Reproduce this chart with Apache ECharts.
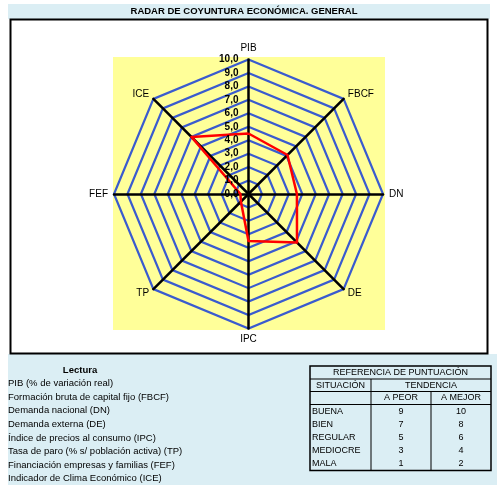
<!DOCTYPE html>
<html><head><meta charset="utf-8">
<script src="https://cdn.jsdelivr.net/npm/echarts@6/dist/echarts.min.js"></script>
<style>html,body{margin:0;padding:0;background:#fff}#c{width:500px;height:485px}</style>
</head><body><div id="c"></div>
<script>
const chartTitle = 'RADAR DE COYUNTURA ECONÓMICA. GENERAL';
const categories = ['PIB', 'FBCF', 'DN', 'DE', 'IPC', 'TP', 'FEF', 'ICE'];
const values = [4.5, 4.1, 3.6, 5.1, 3.5, 0.8, 0.6, 6.0];
const axisMin = 0;
const axisMax = 10;
const tickInterval = 1;
const lecturaTitle = 'Lectura';
const lecturaItems = [
  'PIB (% de variación real)',
  'Formación bruta de capital fijo (FBCF)',
  'Demanda nacional (DN)',
  'Demanda externa (DE)',
  'Índice de precios al consumo (IPC)',
  'Tasa de paro (% s/ población activa) (TP)',
  'Financiación empresas y familias (FEF)',
  'Indicador de Clima Económico (ICE)'
];
const tableTitle = 'REFERENCIA DE PUNTUACIÓN';
const colSituacion = 'SITUACIÓN';
const colTendencia = 'TENDENCIA';
const subCols = ['A PEOR', 'A MEJOR'];
const situaciones = ['BUENA', 'BIEN', 'REGULAR', 'MEDIOCRE', 'MALA'];
const aPeor = [9, 7, 5, 3, 1];
const aMejor = [10, 8, 6, 4, 2];

// ECharts radar runs counter-clockwise; reorder so the chart runs clockwise from the top
const order = [0, 7, 6, 5, 4, 3, 2, 1];
const FONT = 'Liberation Sans, Arial, sans-serif';

const cx = 248.5, cy = 194, R = 134.5;

const g = [];
// backgrounds
g.push({type:'rect', z:-20, shape:{x:8,y:4,width:482,height:15}, style:{fill:'#dbeef4'}});
g.push({type:'rect', z:-20, shape:{x:8,y:354,width:489,height:131}, style:{fill:'#dbeef4'}});
g.push({type:'rect', z:-19, shape:{x:10.5,y:19.5,width:477,height:334}, style:{fill:'#ffffff', stroke:'#000', lineWidth:2}});
g.push({type:'rect', z:-18, shape:{x:113,y:57,width:272,height:273}, style:{fill:'#ffff99'}});
g.push({type:'text', z:5, x:244, y:11.5, style:{text:chartTitle, fill:'#000', font:'bold 9.5px ' + FONT, textAlign:'center', textVerticalAlign:'middle'}});
// lectura
g.push({type:'text', z:5, x:80, y:370, style:{text:lecturaTitle, fill:'#000', font:'bold 9.5px ' + FONT, textAlign:'center', textVerticalAlign:'middle'}});
lecturaItems.forEach((t, i) => {
  g.push({type:'text', z:5, x:8, y:383.5 + i * 13.6, style:{text:t, fill:'#000', font:'9.5px ' + FONT, textAlign:'left', textVerticalAlign:'middle'}});
});
// table
const tx0 = 310, tx1 = 491, tc1 = 371, tc2 = 431;
const ty0 = 366, tyA = 379, tyB = 391.5, tyC = 404.5, rowH = 13, ty1 = tyC + rowH * situaciones.length + 1;
g.push({type:'rect', z:4, shape:{x:tx0,y:ty0,width:tx1-tx0,height:ty1-ty0}, style:{fill:'none', stroke:'#000', lineWidth:1.5}});
[tyA, tyB, tyC].forEach(y => g.push({type:'line', z:4, shape:{x1:tx0,y1:y,x2:tx1,y2:y}, style:{stroke:'#000', lineWidth:1}}));
g.push({type:'line', z:4, shape:{x1:tc1,y1:tyA,x2:tc1,y2:ty1}, style:{stroke:'#000', lineWidth:1}});
g.push({type:'line', z:4, shape:{x1:tc2,y1:tyB,x2:tc2,y2:ty1}, style:{stroke:'#000', lineWidth:1}});
const tfont = '9px ' + FONT;
const tt = (text, x, y, align) => g.push({type:'text', z:5, x, y, style:{text, fill:'#000', font:tfont, textAlign:align||'center', textVerticalAlign:'middle'}});
tt(tableTitle, (tx0+tx1)/2, (ty0+tyA)/2);
tt(colSituacion, (tx0+tc1)/2, (tyA+tyB)/2);
tt(colTendencia, (tc1+tx1)/2, (tyA+tyB)/2);
tt(subCols[0], (tc1+tc2)/2, (tyB+tyC)/2);
tt(subCols[1], (tc2+tx1)/2, (tyB+tyC)/2);
situaciones.forEach((s, i) => {
  const y = tyC + rowH * i + rowH / 2 + 1;
  tt(s, tx0 + 2, y, 'left');
  tt(String(aPeor[i]), (tc1+tc2)/2, y);
  tt(String(aMejor[i]), (tc2+tx1)/2, y);
});

const chart = echarts.init(document.getElementById('c'), null, {renderer:'canvas'});
chart.setOption({
  animation: false,
  backgroundColor: '#ffffff',
  graphic: {elements: g},
  radar: {
    center: [cx, cy],
    radius: R,
    startAngle: 90,
    splitNumber: 10,
    shape: 'polygon',
    indicator: order.map(i => ({name: categories[i], min: axisMin, max: axisMax})),
    nameGap: 6,
    axisName: {color:'#000', fontSize:10, fontFamily: FONT},
    axisLine: {lineStyle: {color:'#000', width:2.5}},
    splitLine: {lineStyle: {color:'#3a5bcf', width:2.2}},
    splitArea: {show:false},
    axisTick: {show:false},
    axisLabel: {show:false}
  },
  grid: {left: cx, top: cy - R, width: 1, height: R},
  xAxis: {type:'value', show:false},
  yAxis: {
    type:'value', min: axisMin, max: axisMax, interval: tickInterval,
    axisLine:{show:false}, axisTick:{show:false}, splitLine:{show:false},
    z: 10,
    axisLabel: {color:'#000', fontSize:10, fontWeight:'bold', fontFamily: FONT, margin: 10,
      formatter: v => v.toFixed(1).replace('.', ',')}
  },
  series: [{
    type: 'radar',
    symbol: 'none',
    lineStyle: {color:'#ff0000', width:2.5},
    data: [{value: order.map(i => values[i])}]
  }]
});
</script></body></html>
